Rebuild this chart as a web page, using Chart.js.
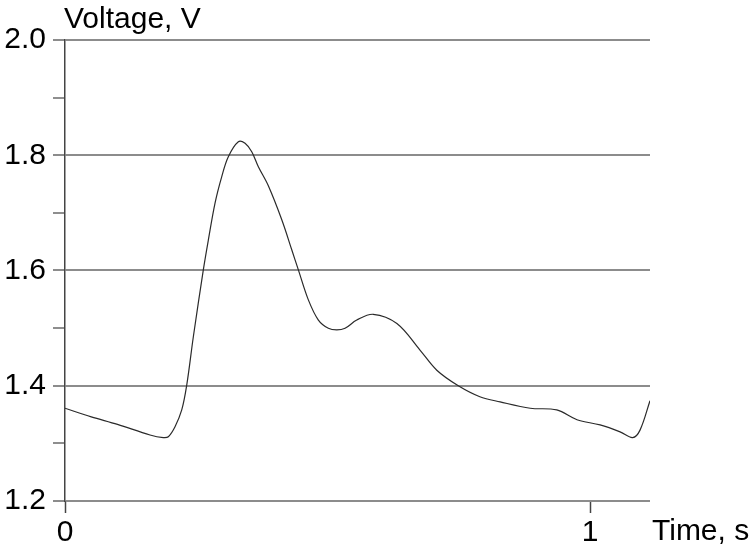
<!DOCTYPE html>
<html>
<head>
<meta charset="utf-8">
<script src="https://cdn.jsdelivr.net/npm/chart.js@4.4.0/dist/chart.umd.min.js"></script>
<style>
  html, body { margin: 0; padding: 0; background: #fff; }
  #wrap { width: 754px; height: 554px; }
</style>
</head>
<body>
<div id="wrap"><canvas id="myChart" width="754" height="554"></canvas></div>
<script>
// time (s) and voltage (V)
const tiempos = [0, 0.05, 0.10, 0.1619, 0.1872, 0.1968, 0.2095, 0.2223, 0.2318, 0.2444, 0.2634, 0.2730, 0.2857, 0.2985, 0.3110, 0.3301, 0.3429, 0.3556, 0.3682, 0.3872, 0.4128, 0.4318, 0.4444, 0.4634, 0.4825, 0.5015, 0.5175, 0.5333, 0.5556, 0.587, 0.632, 0.676, 0.708, 0.749, 0.790, 0.8286, 0.886, 0.9365, 0.975, 1.019, 1.057, 1.081, 1.095, 1.114]
const voltajes = [1.361, 1.346, 1.333, 1.3145, 1.310, 1.3116, 1.329, 1.358, 1.401, 1.485, 1.601, 1.653, 1.717, 1.763, 1.7975, 1.8235, 1.8207, 1.806, 1.780, 1.747, 1.688, 1.636, 1.601, 1.549, 1.514, 1.4997, 1.4968, 1.4997, 1.514, 1.524, 1.508, 1.462, 1.427, 1.400, 1.381, 1.372, 1.361, 1.358, 1.341, 1.332, 1.320, 1.310, 1.323, 1.374]
const ticksX = [0, 1]
const ticksYMayores = [1.2, 1.4, 1.6, 1.8, 2.0]

const puntos = []
for (let i = 0; i < tiempos.length; i++) {
    puntos.push({x: tiempos[i], y: voltajes[i]})
}

function esMayor(v) {
    return ticksYMayores.some(m => Math.abs(m - v) < 1e-6)
}

const fuente = '"Liberation Sans", Arial, sans-serif'

const etiquetasEjes = {
    id: 'etiquetasEjes',
    afterDraw(chart) {
        const c = chart.ctx
        const area = chart.chartArea
        c.save()
        c.fillStyle = '#000'
        c.font = '30px ' + fuente
        c.textAlign = 'left'
        c.textBaseline = 'alphabetic'
        c.fillText('Voltage, V', area.left - 1, area.top - 12)
        c.textBaseline = 'middle'
        c.fillText('Time, s', area.right + 2, area.bottom + 31)
        c.restore()
    }
}

const ctx = document.getElementById('myChart')

new Chart(ctx, {
    type: 'line',
    data: {
        datasets: [{
            label: 'Voltage',
            data: puntos,
            borderColor: '#2a2a2a',
            borderWidth: 1.2,
            pointRadius: 0,
            fill: false,
            tension: 0.35
        }]
    },
    options: {
        responsive: false,
        animation: false,
        layout: { padding: { left: 0, right: 104, top: 40, bottom: 0 } },
        plugins: {
            legend: { display: false },
            tooltip: { enabled: false }
        },
        scales: {
            x: {
                type: 'linear',
                min: 0,
                max: 1.114,
                afterBuildTicks: (scale) => {
                    scale.ticks = ticksX.map(v => ({value: v}))
                },
                afterFit: (scale) => { scale.height = 53 },
                border: { display: false },
                grid: {
                    drawOnChartArea: false,
                    tickLength: 12,
                    tickColor: '#444',
                    tickWidth: 1.5
                },
                ticks: {
                    color: '#000',
                    padding: 2,
                    maxRotation: 0,
                    font: { family: fuente, size: 30 },
                    callback: (v) => String(v)
                }
            },
            y: {
                min: 1.2,
                max: 2.0,
                afterBuildTicks: (scale) => {
                    const lista = []
                    for (let i = 0; i <= 16; i++) {
                        lista.push({value: Math.round((1.2 + i * 0.05) * 100) / 100})
                    }
                    scale.ticks = lista
                },
                afterFit: (scale) => { scale.width = 65 },
                border: { display: true, color: '#444', width: 1.5 },
                grid: {
                    tickLength: 12,
                    lineWidth: 2,
                    color: (c) => esMayor(c.tick.value) ? '#8c8c8c' : 'rgba(0,0,0,0)',
                    tickColor: (c) => esMayor(c.tick.value) ? '#8c8c8c' : '#444',
                    tickWidth: (c) => esMayor(c.tick.value) ? 2 : 1.2
                },
                ticks: {
                    color: '#000',
                    padding: 7,
                    font: { family: fuente, size: 30 },
                    callback: (v) => esMayor(v) ? v.toFixed(1) : ''
                }
            }
        }
    },
    plugins: [etiquetasEjes]
})
</script>
</body>
</html>
